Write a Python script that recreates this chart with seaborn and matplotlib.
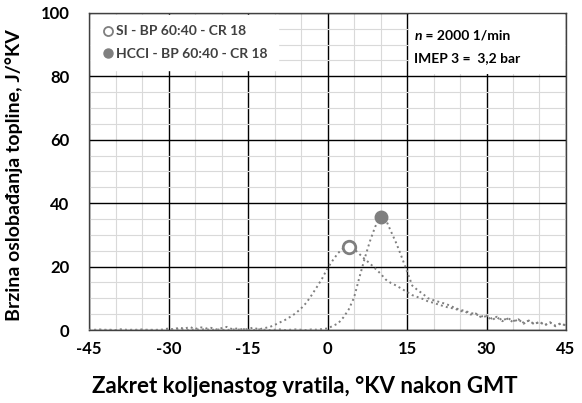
import numpy as np
import pandas as pd
import matplotlib.pyplot as plt
from matplotlib.lines import Line2D
from matplotlib.patches import Rectangle
from matplotlib.ticker import MultipleLocator
import seaborn as sns

# crank angle, deg after TDC (1 deg step)
kut = np.arange(-45, 46)

si = [0.1, 0.0, 0.2, 0.0, 0.1, 0.0, 0.2, 0.1, 0.0, 0.1, 0.2, 0.0, 0.1, 0.0, 0.2,
      0.5, 0.2, 0.8, 0.4, 1.0, 0.3, 0.9, 0.5, 0.7, 0.2, 0.6, 1.0, 0.3, 0.5, 0.2,
      0.3, 0.8, 0.2, 0.6, 0.9, 1.6, 2.4, 3.2, 4.2, 5.3, 6.8, 8.6, 11.0, 13.6, 16.3,
      19.5, 22.0, 24.3, 25.8, 26.3, 25.6, 24.0, 22.4, 21.0, 19.4, 17.8, 15.9, 14.8, 14.0, 13.0,
      12.0, 11.0, 10.4, 9.8, 9.0, 8.6, 8.0, 7.5, 7.0, 6.8, 6.0, 5.8, 4.9, 5.2, 4.0,
      4.4, 3.2, 4.0, 2.8, 3.6, 2.5, 3.4, 2.0, 3.0, 1.8, 2.6, 1.5, 2.4, 1.2, 2.2,
      1.3]

hcci = [0.0, 0.1, 0.0, 0.1, 0.0, 0.0, 0.1, 0.0, 0.1, 0.0, 0.0, 0.1, 0.0, 0.1, 0.0,
        0.2, 0.0, 0.3, 0.1, 0.0, 0.2, 0.1, 0.3, 0.0, 0.2, 0.1, 0.0, 0.2, 0.1, 0.3,
        0.1, 0.0, 0.2, 0.1, 0.0, 0.1, 0.2, 0.0, 0.1, 0.2, 0.1, 0.0, 0.2, 0.1, 0.3,
        0.5, 1.3, 2.1, 4.0, 6.5, 10.2, 16.5, 22.5, 28.0, 32.6, 35.7, 34.8, 31.0, 27.3, 23.0,
        18.5, 14.0, 12.6, 11.4, 10.0, 9.4, 8.9, 8.4, 7.8, 7.0, 6.4, 6.0, 5.4, 5.0, 4.3,
        4.6, 3.6, 4.2, 3.0, 3.8, 2.8, 3.4, 2.3, 3.0, 1.9, 2.6, 1.6, 2.4, 1.4, 2.0,
        1.5]

serije = ['SI - BP 60:40 - CR 18', 'HCCI - BP 60:40 - CR 18']

df = pd.DataFrame({'kut': np.concatenate([kut, kut]),
                   'roht': si + hcci,
                   'serija': [serije[0]] * len(kut) + [serije[1]] * len(kut)})

sns.set_theme(style="white")
plt.rcParams['font.family'] = ['Lato', 'DejaVu Sans']
plt.rcParams['axes.unicode_minus'] = False

siva = '#7f7f7f'
fig = plt.figure(figsize=(5.82, 4.03), dpi=100)
ax = fig.add_axes([0.153, 0.181, 0.8195, 0.787])

sns.lineplot(data=df, x='kut', y='roht', hue='serija', palette=[siva, siva],
             linestyle=':', linewidth=1.4, legend=False, ax=ax, zorder=3)

# markers at the peak of each curve
vrh_si = df[df.serija == serije[0]].roht.idxmax()
vrh_hcci = df[df.serija == serije[1]].roht.idxmax()
ax.plot(df.kut[vrh_si], df.roht[vrh_si], 'o', ms=9, mfc='white', mec=siva, mew=2, zorder=4)
ax.plot(df.kut[vrh_hcci], df.roht[vrh_hcci], 'o', ms=9, mfc=siva, mec=siva, zorder=4)

ax.set_xlim(-45, 45)
ax.set_ylim(0, 100)
ax.xaxis.set_major_locator(MultipleLocator(15))
ax.xaxis.set_minor_locator(MultipleLocator(5))
ax.yaxis.set_major_locator(MultipleLocator(20))
ax.yaxis.set_minor_locator(MultipleLocator(5))
ax.grid(which='minor', color='#d9d9d9', linewidth=0.8)
ax.grid(which='major', color='black', linewidth=1.0)
ax.set_axisbelow(True)
ax.tick_params(which='both', length=0)
ax.tick_params(axis='x', pad=8)
ax.tick_params(axis='y', pad=14)
for lab in ax.get_xticklabels() + ax.get_yticklabels():
    lab.set_fontweight('bold')
    lab.set_fontsize(12)
    lab.set_color('black')
for s in ax.spines.values():
    s.set_color('#404040')
    s.set_linewidth(1.0)

ax.set_xlabel('Zakret koljenastog vratila, °KV nakon GMT', fontsize=16,
              fontweight='bold', color='black')
ax.set_ylabel('Brzina oslobađanja topline, J/°KV', fontsize=14,
              fontweight='bold', color='black')
ax.xaxis.set_label_coords(0.453, -0.145)
ax.yaxis.set_label_coords(-0.138, 0.49)

# legend box
ruke = [Line2D([], [], ls='none', marker='o', ms=6.5, mfc='white', mec=siva, mew=1.3),
        Line2D([], [], ls='none', marker='o', ms=6.5, mfc=siva, mec=siva)]
leg = ax.legend(ruke, serije, loc='upper left', frameon=True, fancybox=False,
                facecolor='white', edgecolor='white', framealpha=1,
                prop={'weight': 'bold', 'size': 10}, handletextpad=0.05,
                handlelength=1.0, labelspacing=0.75, borderaxespad=0.15,
                borderpad=0.75)
for t in leg.get_texts():
    t.set_color('#404040')

# operating point box
ax.add_patch(Rectangle((15.4, 80.6), 29.5, 19.3, facecolor='white',
                       edgecolor='none', zorder=1.5))
t_n = ax.text(16.4, 92.8, 'n', style='italic', fontweight='bold', fontsize=10,
              va='center', color='black', zorder=5)
ax.annotate(' = 2000 1/min', xy=(1, 0.5), xycoords=t_n, va='center',
            fontweight='bold', fontsize=10, color='black', zorder=5)
ax.text(16.4, 85.6, 'IMEP 3 =  3,2 bar', fontweight='bold', fontsize=10,
        va='center', color='black', zorder=5)

plt.savefig('out.png', dpi=100)
